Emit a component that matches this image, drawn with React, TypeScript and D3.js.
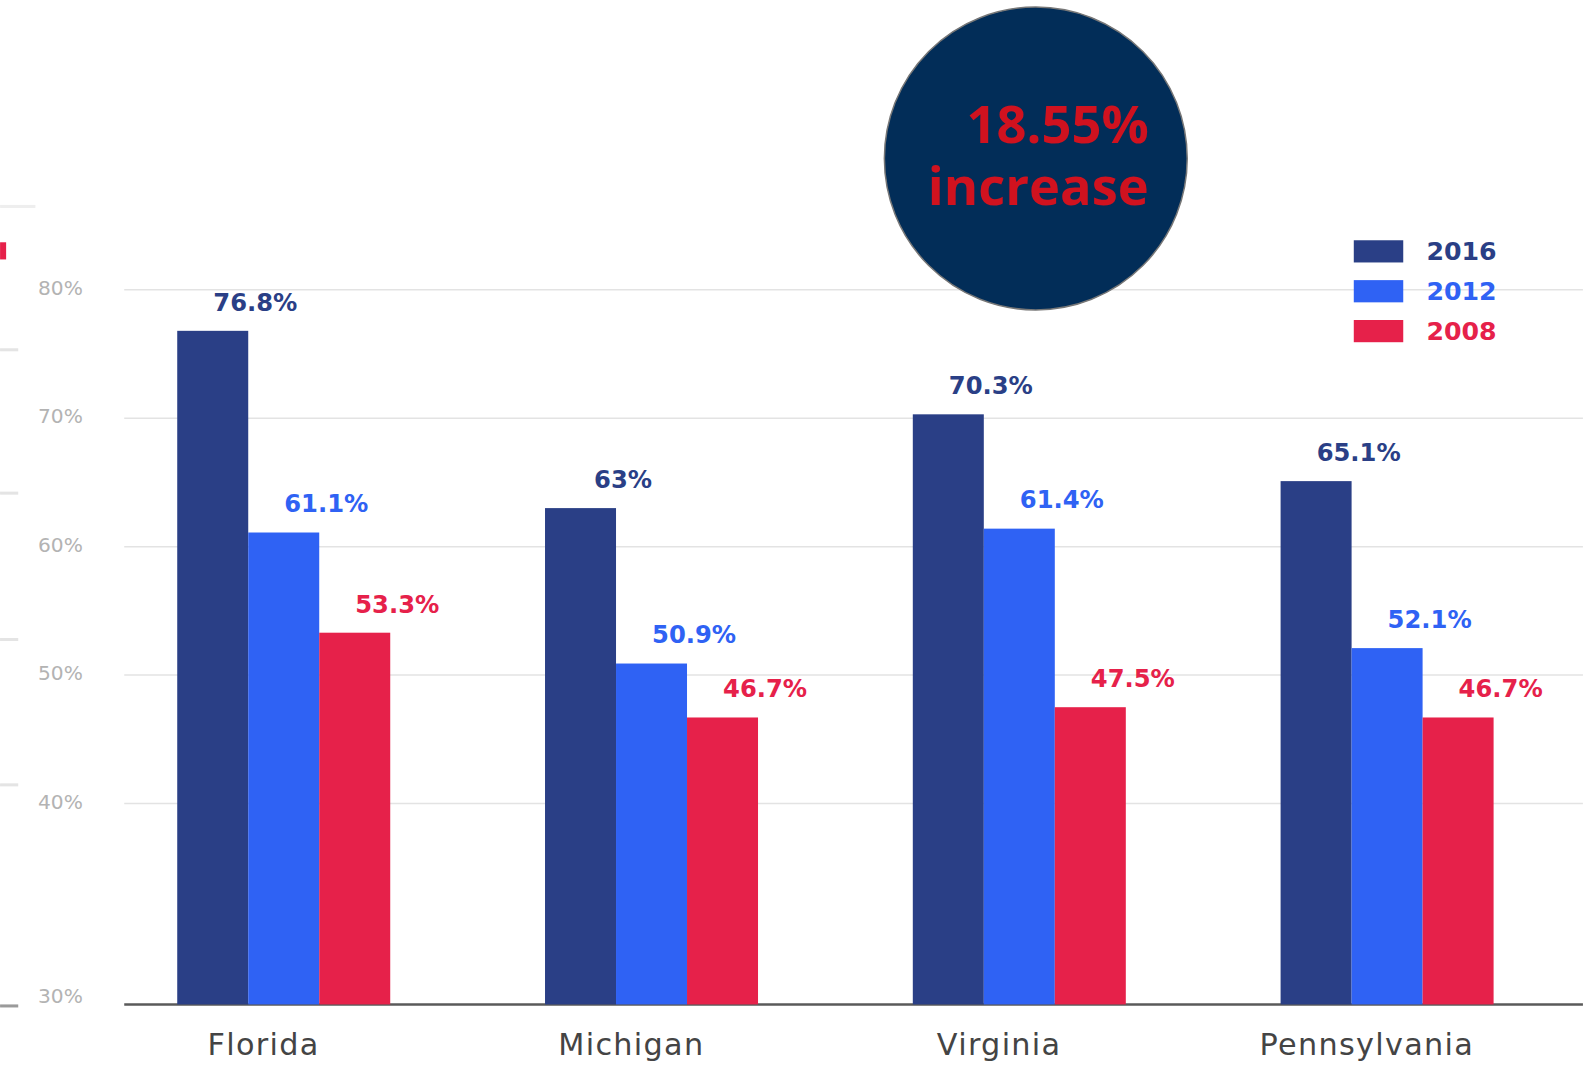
import React from 'react';
import * as d3 from 'd3';

// chart values
const states = ['Florida', 'Michigan', 'Virginia', 'Pennsylvania'];
const years = ['2016', '2012', '2008'];
const v2016 = [76.8, 63, 70.3, 65.1];
const v2012 = [61.1, 50.9, 61.4, 52.1];
const v2008 = [53.3, 46.7, 47.5, 46.7];
const yTicks = [30, 40, 50, 60, 70, 80];
const badgeLines = ['18.55%', 'increase'];

const colors: Record<string, string> = {
  '2016': '#2a3f86',
  '2012': '#2f62f4',
  '2008': '#e6214a',
};

const W = 1568;
const H = 1055;

const App: React.FC = () => {
  const series = [v2016, v2012, v2008];

  const x = d3.scalePoint<string>().domain(states).range([281, 1374]);
  const xs = d3.scaleBand<string>().domain(years).range([-105.5, 105.5]);
  // axis is squeezed between 30% and 40%
  const y = d3.scaleLinear().domain([30, 40, 80]).range([995, 796, 287]);

  const legendY = d3.scalePoint<string>().domain(years).range([249, 328]);

  return (
    <svg
      width={1583}
      height={1065}
      viewBox={`0 0 ${W} ${H}`}
      style={{ position: 'absolute', left: 0, top: 0, background: '#fff' }}
    >
      {/* scraps at the left edge */}
      <rect x={0} y={203} width={35} height={3} fill="#eeeeee" />
      <rect x={0} y={240} width={6} height={17} fill="#e6214a" />
      {[345, 487, 632, 776].map((yy) => (
        <rect key={yy} x={0} y={yy} width={18} height={3} fill="#e4e4e4" />
      ))}
      <rect x={0} y={995} width={18} height={3} fill="#9a9a9a" />

      {/* grid */}
      {yTicks.map((t) => (
        <line
          key={t}
          x1={123}
          x2={W}
          y1={y(t)}
          y2={y(t)}
          stroke={t === 30 ? '#5a5a5a' : '#e3e3e3'}
          strokeWidth={t === 30 ? 2.5 : 1.5}
        />
      ))}
      {yTicks.map((t) => (
        <text
          key={'l' + t}
          x={82}
          y={t === 30 ? y(t) - 1 : y(t) + 5}
          textAnchor="end"
          fontFamily="DejaVu Sans"
          fontSize={20}
          fill="#b3b3b3"
        >
          {t}%
        </text>
      ))}

      {/* bars */}
      {states.map((s, i) => (
        <g key={s} transform={`translate(${x(s)},0)`}>
          {years.map((yr, j) => {
            const v = series[j][i];
            return (
              <rect
                key={yr}
                x={xs(yr)!}
                y={y(v)}
                width={xs.bandwidth()}
                height={y(30) - y(v)}
                fill={colors[yr]}
              />
            );
          })}
          {years.map((yr, j) => {
            const v = series[j][i];
            return (
              <text
                key={'t' + yr}
                x={xs(yr)! + xs.bandwidth() + 7}
                y={y(v) - 20}
                textAnchor="middle"
                fontFamily="DejaVu Sans"
                fontWeight="bold"
                fontSize={24}
                fill={colors[yr]}
              >
                {v}%
              </text>
            );
          })}
          <text
            x={-20}
            y={1045}
            textAnchor="middle"
            fontFamily="DejaVu Sans"
            fontSize={30}
            letterSpacing={1.3}
            fill="#444"
          >
            {s}
          </text>
        </g>
      ))}

      {/* legend */}
      {years.map((yr) => (
        <g key={yr} transform={`translate(1341,${legendY(yr)})`}>
          <rect x={0} y={-11} width={49} height={22} fill={colors[yr]} />
          <text
            x={72}
            y={9}
            fontFamily="DejaVu Sans"
            fontWeight="bold"
            fontSize={25}
            fill={colors[yr]}
          >
            {yr}
          </text>
        </g>
      ))}

      {/* badge */}
      <circle cx={1026} cy={157} r={150} fill="#022d58" stroke="#777" strokeWidth={1.5} />
      {badgeLines.map((l, k) => (
        <text
          key={l}
          x={1138}
          y={142 + k * 61}
          textAnchor="end"
          fontFamily="Open Sans"
          fontWeight="bold"
          fontSize={52}
          fill="#d0121f"
        >
          {l}
        </text>
      ))}
    </svg>
  );
};

export default App;
